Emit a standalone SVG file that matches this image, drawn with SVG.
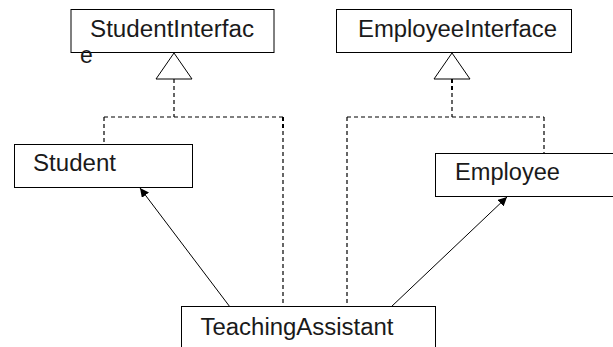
<svg xmlns="http://www.w3.org/2000/svg" width="613" height="347" viewBox="0 0 613 347">
  <style>
    .box { fill: #ffffff; stroke: #000000; stroke-width: 1; }
    .label { font-family: "Liberation Sans", Arial, sans-serif; font-size: 23px; fill: #1a1a1a; }
    .dash { fill: none; stroke: #000000; stroke-width: 1.2; stroke-dasharray: 4 3; }
    .solid { fill: none; stroke: #000000; stroke-width: 1; }
    .tri { fill: #ffffff; stroke: #000000; stroke-width: 1; }
  </style>
  <defs>
    <marker id="arrow" viewBox="0 0 10 10" refX="10" refY="5" markerWidth="9" markerHeight="9" markerUnits="userSpaceOnUse" orient="auto">
      <path d="M0,0 L10,5 L0,10 z" fill="#000000"/>
    </marker>
  </defs>
  <rect width="613" height="347" fill="#ffffff"/>

  <!-- connectors -->
  <g id="connectors">
    <!-- realization of StudentInterface -->
    <polygon class="tri" points="174,53 156,79 192,79"/>
    <path class="dash" d="M174,79 V117"/>
    <path class="dash" d="M104,117 H283"/>
    <path class="dash" d="M104,117 V144"/>
    <path class="dash" d="M283,117 V304"/>
    <path d="M283,117 V130" stroke="#000" stroke-width="2" stroke-dasharray="4 3" fill="none"/>
    <!-- realization of EmployeeInterface -->
    <polygon class="tri" points="452,53 434,79 470,79"/>
    <path class="dash" d="M452,79 V117"/>
    <path d="M452,79 V90" stroke="#000" stroke-width="2" stroke-dasharray="4 3" fill="none"/>
    <path class="dash" d="M347,117 H544"/>
    <path class="dash" d="M347,117 V304"/>
    <path class="dash" d="M544,117 V153"/>
    <!-- generalization arrows from TeachingAssistant -->
    <line class="solid" x1="230" y1="307" x2="140" y2="188" marker-end="url(#arrow)"/>
    <line class="solid" x1="391" y1="307" x2="507" y2="197" marker-end="url(#arrow)"/>
  </g>

  <g id="student-interface">
    <rect class="box" x="71" y="9.5" width="203" height="43"/>
    <text class="label" x="90" y="36.5" textLength="164" lengthAdjust="spacingAndGlyphs">StudentInterfac</text>
    <text class="label" x="80" y="62.5">e</text>
  </g>

  <g id="employee-interface">
    <rect class="box" x="336.5" y="9.5" width="235" height="43"/>
    <text class="label" x="358" y="36.5" textLength="199" lengthAdjust="spacingAndGlyphs">EmployeeInterface</text>
  </g>

  <g id="student">
    <rect class="box" x="14.5" y="144.5" width="178" height="43"/>
    <text class="label" x="33" y="170.5" textLength="83" lengthAdjust="spacingAndGlyphs">Student</text>
  </g>

  <g id="employee">
    <rect class="box" x="435.5" y="153.5" width="190" height="43"/>
    <text class="label" x="455" y="180" textLength="105" lengthAdjust="spacingAndGlyphs">Employee</text>
  </g>

  <g id="teaching-assistant">
    <rect class="box" x="181.5" y="306.5" width="254" height="60"/>
    <text class="label" x="200.5" y="334.5" textLength="193" lengthAdjust="spacingAndGlyphs">TeachingAssistant</text>
  </g>
</svg>
